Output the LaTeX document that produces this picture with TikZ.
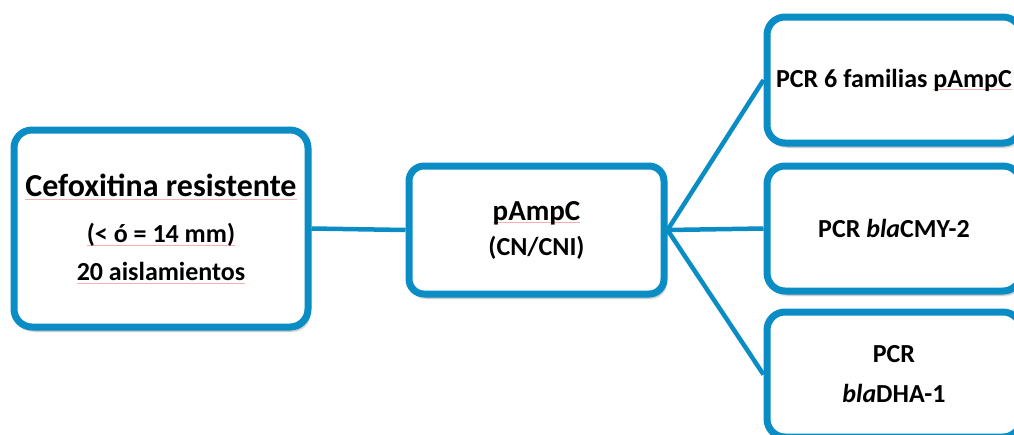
\documentclass[tikz,border=0pt]{standalone}
\usepackage{fontspec}
\setmainfont{Carlito}
\usetikzlibrary{shadows.blur}
\definecolor{frame}{HTML}{0A8CC4}
\definecolor{spell}{HTML}{F4B0B0}
% faint proofing underline under a word or phrase
\newsavebox\splbox
\newcommand\spl[1]{\sbox\splbox{#1}\rlap{\textcolor{spell}{\rule[-2.5pt]{\wd\splbox}{0.5pt}}}\usebox\splbox}
\tikzset{
  box/.style={draw=frame, line width=7pt, fill=white, rounded corners=18pt,
    align=center, font=\bfseries, inner sep=0pt,
    blur shadow={shadow xshift=2pt, shadow yshift=-4pt, shadow blur steps=6, shadow opacity=35}},
  link/.style={draw=frame, line width=4.5pt}
}
\begin{document}
\begin{tikzpicture}[x=1pt, y=-1pt]
\useasboundingbox (0,0) rectangle (1014,434);
% boxes
\node[box, minimum width=294pt, minimum height=197pt,
      font=\bfseries\fontsize{26}{38}\selectfont] (cef) at (161,228.5)
  {{\fontsize{32}{36}\selectfont\spl{Cefoxitina resistente}}\\[8pt]
   \spl{(< ó = 14 mm)}\\ \spl{20 aislamientos}};
\node[box, rounded corners=15pt, minimum width=255pt, minimum height=128pt,
      font=\bfseries\fontsize{26}{35}\selectfont] (amp) at (536.5,230)
  {{\fontsize{29}{35}\selectfont\spl{pAmpC}}\\(CN/CNI)};
\node[box, minimum width=254pt, minimum height=126pt,
      font=\bfseries\fontsize{26}{30}\selectfont] (fam) at (894,80)
  {PCR 6 familias \spl{pAmpC}};
\node[box, minimum width=254pt, minimum height=125pt,
      font=\bfseries\fontsize{26}{30}\selectfont] (cmy) at (894,228.5)
  {PCR \textit{bla}CMY-2};
\node[box, minimum width=254pt, minimum height=125pt,
      font=\bfseries\fontsize{26}{40}\selectfont] (dha) at (894,374.5)
  {PCR\\\textit{bla}DHA-1};
% connectors
\draw[link] (cef.east) -- (amp.west);
\draw[link] (amp.east) -- (fam.west);
\draw[link] (amp.east) -- (cmy.west);
\draw[link] (amp.east) -- (dha.west);
\end{tikzpicture}
\end{document}
